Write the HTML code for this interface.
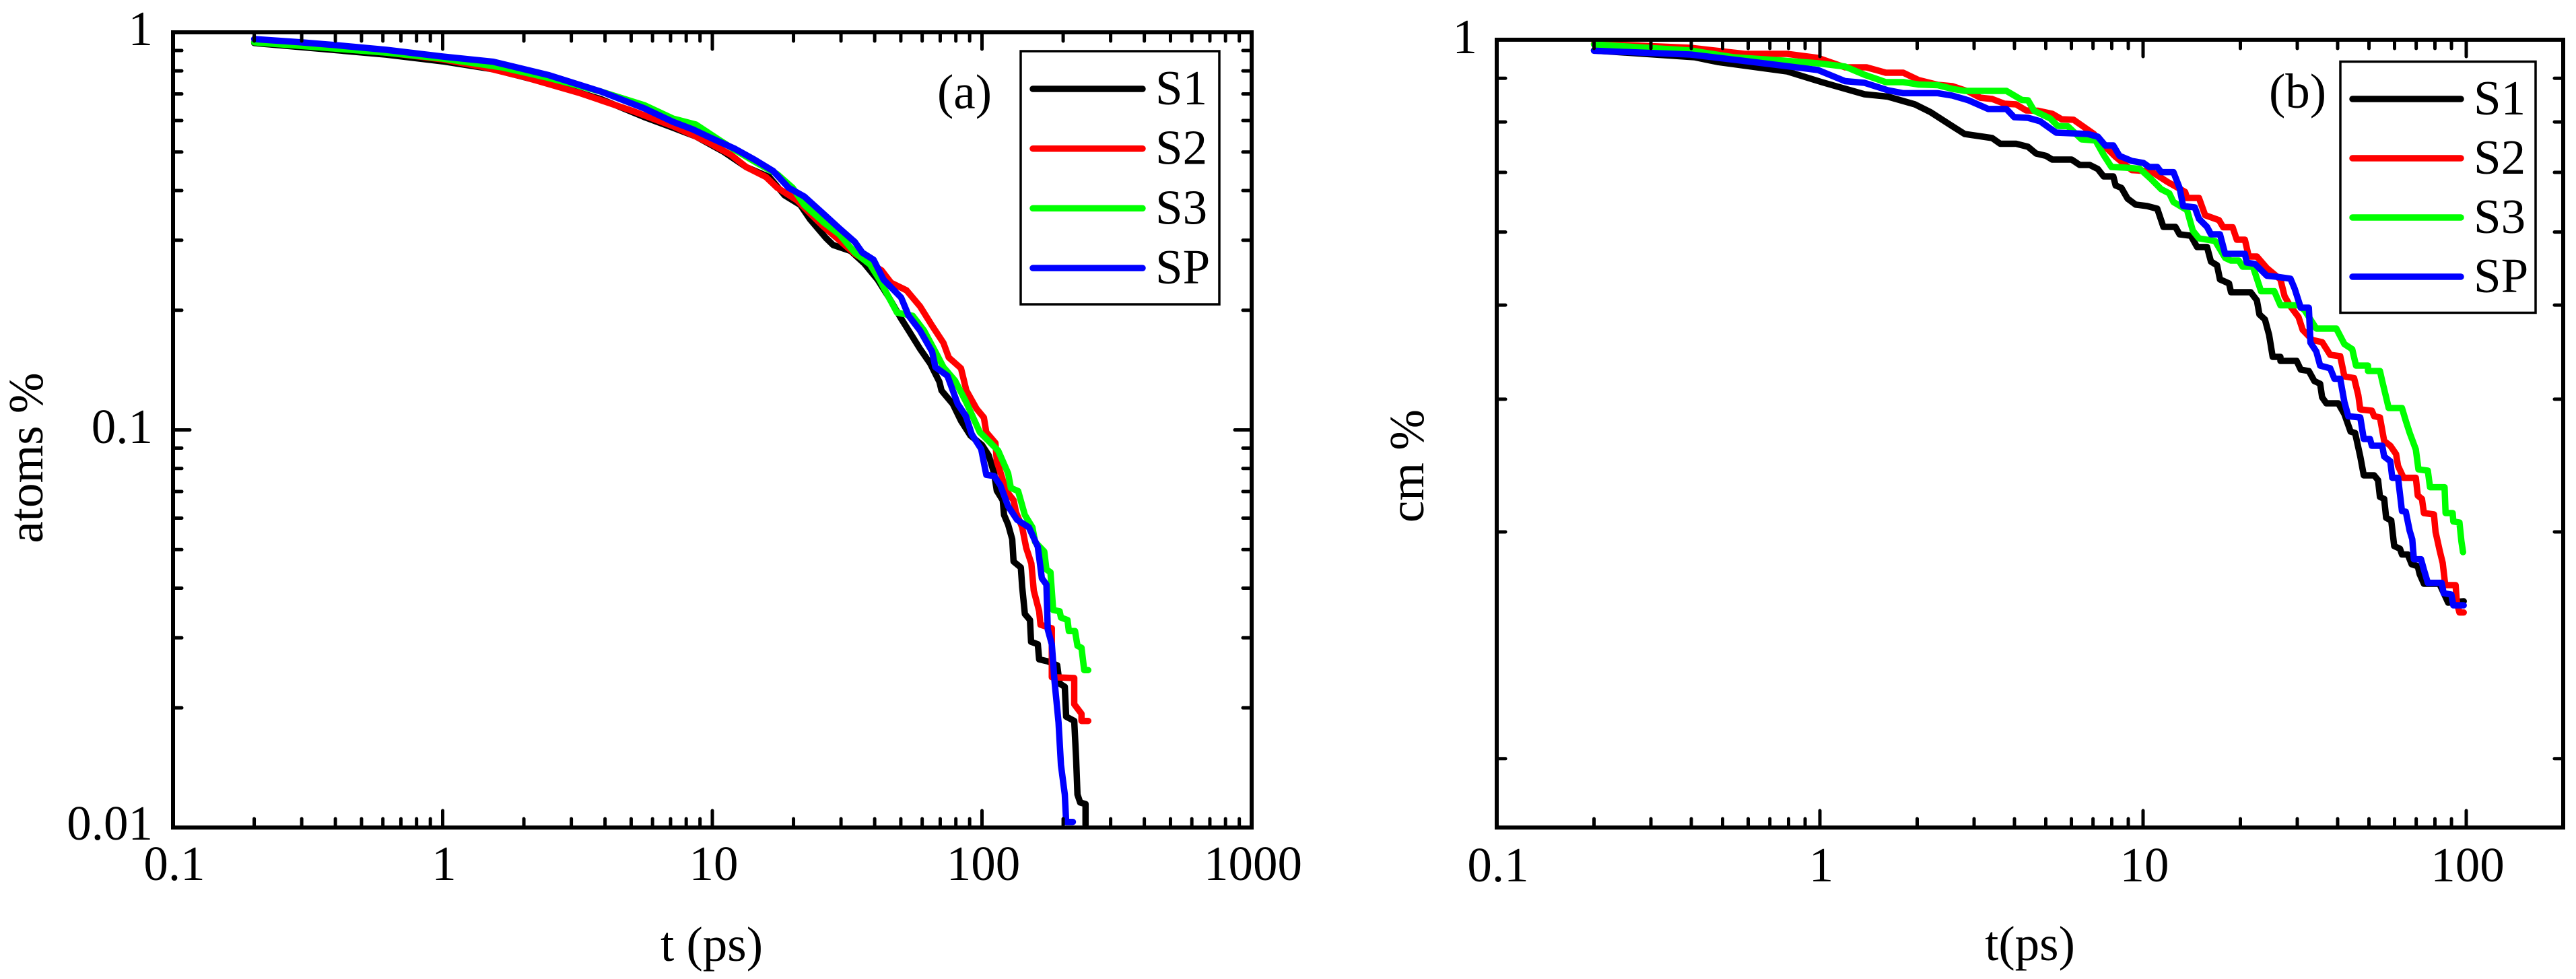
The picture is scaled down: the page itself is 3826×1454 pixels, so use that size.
<!DOCTYPE html>
<html lang="en">
<head>
<meta charset="utf-8">
<title>Atoms and centre-of-mass fraction versus time</title>
<style>
html,body{margin:0;padding:0;background:#fff;}
svg{display:block;}
text{font-family:"Liberation Serif",serif;font-size:73px;fill:#000;}
</style>
</head>
<body>
<svg id="figure" xmlns="http://www.w3.org/2000/svg" width="3826" height="1454" viewBox="0 0 3826 1454">
  <rect x="0" y="0" width="3826" height="1454" fill="#fff"/>
  <g id="panelA"></g>
  <g id="panelB"></g>
</svg>
<script>
// Panel (a): time as log10(t / ps), fraction as decades below 1.
const aS1T=[-.699,-.209,0,.188,.395,.587,.747,.854,.939,1.041,1.126,1.211,1.268,1.326,1.363,1.421,1.448,1.513,1.563,1.613,1.655,1.700,1.728,1.770,1.808,1.842,1.850,1.892,1.922,1.957,2.000,2.025,2.045,2.055,2.077,2.082,2.097,2.112,2.117,2.144,2.149,2.159,2.178,2.182,2.207,2.212,2.244,2.279,2.288,2.307,2.312,2.342,2.349,2.354,2.364,2.384,2.384];
const aS1V=[.027,.056,.073,.093,.129,.168,.213,.240,.262,.300,.339,.364,.410,.434,.471,.517,.535,.550,.581,.622,.667,.720,.750,.796,.833,.879,.901,.935,.977,1.014,1.038,1.064,1.109,1.153,1.177,1.214,1.238,1.275,1.331,1.346,1.395,1.463,1.478,1.533,1.539,1.577,1.582,1.592,1.638,1.646,1.721,1.732,1.827,1.917,1.937,1.941,1.993];
const aS2T=[-.699,-.209,0,.155,.300,.505,.705,.854,.939,.996,1.069,1.126,1.199,1.241,1.313,1.363,1.413,1.471,1.528,1.585,1.628,1.663,1.720,1.770,1.815,1.857,1.877,1.922,1.942,1.980,2.007,2.016,2.050,2.055,2.073,2.087,2.117,2.126,2.149,2.164,2.183,2.192,2.212,2.217,2.259,2.259,2.342,2.342,2.369,2.369,2.394];
const aS2V=[.024,.051,.068,.088,.112,.152,.198,.236,.262,.281,.308,.339,.364,.391,.422,.456,.489,.523,.557,.581,.599,.630,.649,.689,.738,.781,.818,.845,.901,.947,.969,1.006,1.033,1.079,1.116,1.150,1.177,1.207,1.245,1.297,1.336,1.404,1.456,1.490,1.499,1.622,1.624,1.690,1.714,1.732,1.732];
const aS3T=[-.699,-.209,0,.220,.395,.587,.747,.854,.939,1.026,1.084,1.169,1.241,1.298,1.341,1.413,1.471,1.528,1.585,1.620,1.655,1.685,1.743,1.785,1.827,1.857,1.900,1.942,1.992,2.060,2.097,2.107,2.134,2.159,2.187,2.197,2.231,2.239,2.254,2.264,2.288,2.293,2.317,2.322,2.345,2.354,2.369,2.379,2.394];
const aS3V=[.025,.051,.066,.088,.115,.149,.183,.217,.232,.271,.296,.330,.357,.391,.434,.478,.508,.554,.584,.622,.667,.705,.713,.750,.803,.842,.876,.931,1.006,1.052,1.109,1.146,1.154,1.214,1.245,1.282,1.306,1.351,1.358,1.453,1.456,1.472,1.478,1.506,1.506,1.543,1.548,1.604,1.604];
const aSPT=[-.699,-.528,-.401,-.209,0,.188,.395,.587,.747,.854,.927,.996,1.084,1.156,1.226,1.283,1.341,1.421,1.471,1.528,1.556,1.598,1.635,1.700,1.728,1.770,1.815,1.827,1.872,1.910,1.940,1.962,1.997,2.016,2.045,2.068,2.097,2.130,2.174,2.207,2.222,2.239,2.244,2.259,2.269,2.284,2.293,2.307,2.312,2.337];
const aSPV=[.017,.025,.032,.044,.061,.074,.108,.149,.191,.225,.244,.266,.293,.320,.349,.391,.413,.462,.493,.527,.554,.572,.622,.667,.713,.750,.803,.842,.864,.935,.965,1.011,1.048,1.113,1.116,1.139,1.192,1.226,1.245,1.294,1.373,1.389,1.502,1.539,1.631,1.736,1.843,1.917,1.986,1.986];

// Panel (b): time as log10(t / ps), fraction as decades below the axis top.
const bS1T=[-.699,-.388,-.317,-.102,.006,.138,.210,.294,.342,.410,.448,.533,.558,.607,.644,.669,.700,.719,.779,.804,.835,.860,.878,.908,.915,.933,.952,.977,1.012,1.044,1.063,1.100,1.113,1.148,1.167,1.198,1.210,1.229,1.238,1.266,1.272,1.333,1.352,1.360,1.377,1.390,1.401,1.425,1.425,1.475,1.488,1.513,1.530,1.548,1.554,1.567,1.604,1.623,1.642,1.656,1.672,1.683,1.715,1.727,1.733,1.746,1.752,1.768,1.777,1.795,1.801,1.819,1.831,1.850,1.856,1.869,1.917,1.944,1.992];
const bS1V=[.0143,.0232,.0295,.0420,.0563,.0724,.0755,.0858,.0961,.1148,.1251,.1305,.1381,.1381,.1421,.1510,.1542,.1591,.1591,.1662,.1662,.1716,.1814,.1814,.1935,.1966,.2109,.2189,.2207,.2243,.2484,.2484,.2583,.2601,.2752,.2752,.2945,.2994,.3181,.3235,.3351,.3351,.3458,.3646,.3713,.3919,.4209,.4209,.4263,.4263,.4379,.4397,.4531,.4567,.4745,.4826,.4826,.4969,.5201,.5219,.5532,.5782,.5782,.5845,.6068,.6095,.6345,.6381,.6720,.6756,.6832,.6832,.6962,.6988,.7096,.7221,.7221,.7471,.7453];
const bS2T=[-.699,-.400,-.233,-.102,-.006,.078,.144,.204,.258,.306,.365,.410,.460,.496,.533,.571,.607,.638,.675,.719,.748,.785,.848,.883,.915,.965,1.025,1.075,1.130,1.136,1.173,1.192,1.235,1.248,1.277,1.290,1.315,1.327,1.352,1.383,1.425,1.438,1.456,1.481,1.494,1.524,1.554,1.579,1.610,1.623,1.653,1.666,1.672,1.708,1.715,1.733,1.746,1.765,1.783,1.789,1.806,1.844,1.850,1.863,1.869,1.900,1.905,1.918,1.927,1.935,1.967,1.971,1.979,1.992];
const bS2V=[.0054,.0107,.0188,.0188,.0241,.0366,.0366,.0438,.0438,.0536,.0599,.0617,.0688,.0769,.0786,.0849,.0858,.0938,.0943,.0983,.1055,.1063,.1251,.1421,.1555,.1730,.1747,.1886,.2020,.2100,.2100,.2329,.2395,.2489,.2489,.2654,.2654,.2878,.2878,.3030,.3181,.3405,.3539,.3682,.3852,.3986,.4013,.4182,.4200,.4468,.4491,.4719,.4906,.4924,.4996,.5013,.5326,.5389,.5500,.5657,.5814,.5814,.6050,.6095,.6282,.6300,.6533,.6783,.6944,.7239,.7239,.7475,.7601,.7601];
const bS3T=[-.699,-.400,-.269,-.113,-.006,.078,.138,.204,.258,.306,.365,.410,.448,.577,.625,.644,.663,.713,.736,.767,.810,.853,.878,.902,.946,.990,1.025,1.056,1.081,1.094,1.136,1.154,1.173,1.223,1.254,1.272,1.296,1.308,1.340,1.365,1.406,1.425,1.481,1.500,1.536,1.598,1.623,1.647,1.659,1.696,1.696,1.733,1.740,1.752,1.760,1.801,1.813,1.825,1.844,1.852,1.881,1.888,1.933,1.936,1.958,1.960,1.979,1.985,1.990];
const bS3V=[.0063,.0143,.0232,.0277,.0313,.0357,.0465,.0563,.0563,.0594,.0603,.0652,.0679,.0679,.0800,.0804,.0943,.1046,.1144,.1148,.1323,.1337,.1528,.1689,.1698,.1713,.1850,.1984,.2038,.2154,.2261,.2534,.2636,.2672,.2895,.2931,.2931,.3012,.3012,.3338,.3338,.3525,.3525,.3592,.3834,.3834,.4039,.4107,.4325,.4325,.4397,.4397,.4531,.4745,.4888,.4888,.5058,.5219,.5438,.5702,.5719,.5939,.5939,.6282,.6282,.6394,.6408,.6658,.6801];
const bSPT=[-.699,-.400,-.208,-.006,.078,.138,.210,.258,.365,.410,.460,.521,.577,.601,.644,.681,.731,.829,.860,.883,.908,.927,.965,1.001,1.019,1.044,1.056,1.094,1.113,1.124,1.160,1.173,1.198,1.210,1.238,1.254,1.315,1.321,1.346,1.383,1.413,1.456,1.469,1.488,1.513,1.518,1.536,1.548,1.579,1.592,1.610,1.623,1.635,1.672,1.683,1.702,1.708,1.740,1.746,1.765,1.771,1.789,1.801,1.813,1.825,1.833,1.838,1.860,1.869,1.881,1.924,1.930,1.954,1.960,1.992];
const bSPV=[.0147,.0197,.0295,.0402,.0550,.0572,.0670,.0710,.0710,.0742,.0804,.0920,.0920,.1028,.1037,.1081,.1233,.1251,.1287,.1403,.1403,.1542,.1609,.1635,.1689,.1689,.1757,.1757,.1966,.2207,.2225,.2377,.2484,.2583,.2583,.2842,.2842,.2958,.2976,.3132,.3146,.3172,.3303,.3557,.3557,.4021,.4138,.4325,.4361,.4500,.4500,.4808,.4996,.5013,.5299,.5299,.5389,.5389,.5532,.5594,.5814,.5814,.6256,.6265,.6519,.6631,.6895,.6895,.7033,.7208,.7208,.7346,.7364,.7507,.7507];

// Tick values and printed labels
const seriesNames=['S1','S2','S3','SP'];
const seriesColors=['#000000','#ff0000','#00ff00','#0000ff'];
const xMajorA=[0.1,1,10,100,1000];
const xMajorLabelsA=['0.1','1','10','100','1000'];
const xMajorB=[0.1,1,10,100];
const xMajorLabelsB=['0.1','1','10','100'];
const minorMultipliers=[2,3,4,5,6,7,8,9];
const yMajorA=[1,0.1,0.01];
const yMajorLabelsA=['1','0.1','0.01'];
const yMinorA=[0.9,0.8,0.7,0.6,0.5,0.4,0.3,0.2,0.09,0.08,0.07,0.06,0.05,0.04,0.03,0.02];
const yMinorB=[0.8,0.7,0.6,0.5,0.4,0.3,0.2,0.1];

const NS='http://www.w3.org/2000/svg';
function mk(parent,tag,attrs){
  const el=document.createElementNS(NS,tag);
  for(const k in attrs){el.setAttribute(k,attrs[k]);}
  parent.appendChild(el);
  return el;
}
function drawPanel(cfg){
  const root=document.getElementById(cfg.rootId);
  const xOf=function(logT){return cfg.left+cfg.xDecade*(logT-cfg.xLogMin);};
  const yOf=function(drop){return cfg.top+cfg.yDecade*drop;};

  // series
  cfg.series.forEach(function(s,i){
    const pts=s.t.map(function(t,j){return xOf(t).toFixed(1)+','+yOf(s.v[j]).toFixed(1);}).join(' ');
    const line=mk(root,'polyline',{points:pts,fill:'none',stroke:seriesColors[i],'stroke-width':9.5,'stroke-linejoin':'round','stroke-linecap':'round'});
    
    
  });

  // ticks on all four sides
  const ticks=mk(root,'g',{stroke:'#000','stroke-width':5,'stroke-linecap':'round'});
  
  
  function xTick(val,len){
    const x=xOf(Math.log10(val));
    mk(ticks,'line',{x1:x,x2:x,y1:cfg.top,y2:cfg.top+len});
    mk(ticks,'line',{x1:x,x2:x,y1:cfg.bottom,y2:cfg.bottom-len});
  }
  function yTick(drop,len){
    const y=yOf(drop);
    mk(ticks,'line',{x1:cfg.left,x2:cfg.left+len,y1:y,y2:y});
    mk(ticks,'line',{x1:cfg.right,x2:cfg.right-len,y1:y,y2:y});
  }
  cfg.xMajor.forEach(function(v){xTick(v,25);});
  cfg.xMajor.forEach(function(v){
    minorMultipliers.forEach(function(m){
      const val=v*m;
      if(Math.log10(val)<cfg.xLogMax-0.001){xTick(val,13);}
    });
  });
  cfg.yMinorDrops.forEach(function(d){yTick(d,13);});
  cfg.yMajorDrops.forEach(function(d){yTick(d,25);});

  // frame
  const frame=mk(root,'rect',{x:cfg.left,y:cfg.top,width:cfg.right-cfg.left,height:cfg.bottom-cfg.top,fill:'none',stroke:'#000','stroke-width':6});
  
  

  // tick labels
  cfg.xMajor.forEach(function(v,i){
    const t=mk(root,'text',{x:xOf(Math.log10(v))+cfg.xLabelShift,y:cfg.xLabelBase,'text-anchor':'middle'});
    t.textContent=cfg.xLabels[i];
    
    
  });
  cfg.yLabels.forEach(function(lbl,i){
    const t=mk(root,'text',{x:cfg.yLabelRight,y:cfg.yLabelBases[i],'text-anchor':'end'});
    t.textContent=lbl;
    
    
  });

  // axis titles and panel tag
  const xt=mk(root,'text',{x:cfg.xTitleX,y:cfg.xTitleY,'text-anchor':'middle'});
  xt.textContent=cfg.xTitle;
  
  
  const yt=mk(root,'text',{x:0,y:0,'text-anchor':'middle',transform:'translate('+cfg.yTitleX+','+cfg.yTitleY+') rotate(-90)'});
  yt.textContent=cfg.yTitle;
  
  
  const tag=mk(root,'text',{x:cfg.tagX,y:cfg.tagY});
  tag.textContent=cfg.tag;
  
  

  // legend
  const lg=mk(root,'g',{});
  
  
  const box=mk(lg,'rect',{x:cfg.lgX,y:cfg.lgY,width:cfg.lgW,height:cfg.lgH,fill:'#fff',stroke:'#000','stroke-width':3.5});
  
  
  seriesNames.forEach(function(name,i){
    const y=cfg.lgLineY+i*cfg.lgStep;
    const sw=mk(lg,'line',{x1:cfg.lgLineX1,x2:cfg.lgLineX2,y1:y,y2:y,stroke:seriesColors[i],'stroke-width':9.5,'stroke-linecap':'round'});
    
    
    const tx=mk(lg,'text',{x:cfg.lgTextX,y:y+cfg.lgTextDy});
    tx.textContent=name;
    
    
  });
}

drawPanel({
  rootId:'panelA',prefix:'panel-a',
  left:257,right:1859,top:48,bottom:1229,xLogMin:-1,xLogMax:3,xDecade:400.5,yDecade:590.5,
  series:[{t:aS1T,v:aS1V},{t:aS2T,v:aS2V},{t:aS3T,v:aS3V},{t:aSPT,v:aSPV}],
  xMajor:xMajorA,xLabels:xMajorLabelsA,xLabelShift:2,xLabelBase:1307,
  yMinorDrops:yMinorA.map(function(v){return -Math.log10(v);}),
  yMajorDrops:yMajorA.map(function(v){return -Math.log10(v);}),
  yLabels:yMajorLabelsA,yLabelRight:227,yLabelBases:[67,658,1247],
  xTitle:'t (ps)',xTitleX:1057,xTitleY:1427,
  yTitle:'atoms %',yTitleX:63,yTitleY:680,
  tag:'(a)',tagX:1392,tagY:161,
  lgX:1516,lgY:76,lgW:295,lgH:376,lgLineX1:1534,lgLineX2:1697,lgLineY:132,lgStep:88.7,lgTextX:1716,lgTextDy:23
});
drawPanel({
  rootId:'panelB',prefix:'panel-b',
  left:2223,right:3807,top:59,bottom:1229,xLogMin:-1,xLogMax:2.301,xDecade:480,yDecade:1119,
  series:[{t:bS1T,v:bS1V},{t:bS2T,v:bS2V},{t:bS3T,v:bS3V},{t:bSPT,v:bSPV}],
  xMajor:xMajorB,xLabels:xMajorLabelsB,xLabelShift:2,xLabelBase:1309,
  yMinorDrops:yMinorB.map(function(v){return Math.log10(0.9/v);}),
  yMajorDrops:[],
  yLabels:['1'],yLabelRight:2194,yLabelBases:[79],
  xTitle:'t(ps)',xTitleX:3015,xTitleY:1426,
  yTitle:'cm %',yTitleX:2114,yTitleY:692,
  tag:'(b)',tagX:3370,tagY:160,
  lgX:3476,lgY:91.5,lgW:290,lgH:373,lgLineX1:3494,lgLineX2:3655,lgLineY:147,lgStep:88,lgTextX:3674,lgTextDy:23
});
</script>
</body>
</html>
